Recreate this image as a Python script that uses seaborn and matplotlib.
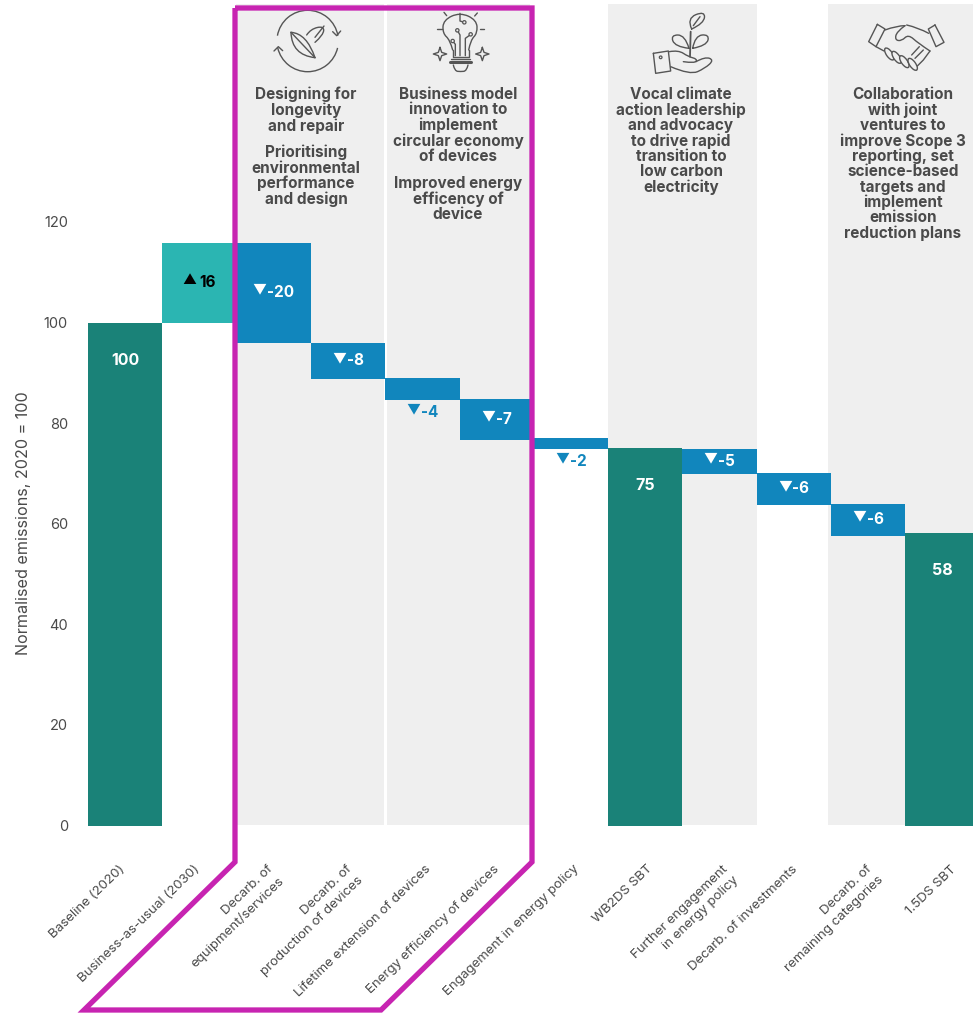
import matplotlib
matplotlib.use("Agg")
import matplotlib.pyplot as plt
import seaborn as sns
from matplotlib.path import Path
from matplotlib.patches import PathPatch, Rectangle, Ellipse, Arc
from matplotlib.transforms import Affine2D, ScaledTranslation

# ---- data ----
categories = ["Baseline (2020)", "Business-as-usual (2030)", "Decarb. of\nequipment/services",
              "Decarb. of\nproduction of devices", "Lifetime extension of devices",
              "Energy efficiency of devices", "Engagement in energy policy", "WB2DS SBT",
              "Further engagement\nin energy policy", "Decarb. of investments",
              "Decarb. of\nremaining categories", "1.5DS SBT"]
bar_top = [100, 115.9, 115.9, 95.9, 88.9, 84.8, 77, 75.1, 74.8, 70, 64, 58.1]
bar_bottom = [0, 100, 95.9, 88.8, 84.6, 76.7, 74.8, 0, 69.9, 63.8, 57.6, 0]
bar_kind = ["total", "rise", "cut", "cut", "cut", "cut", "cut", "total", "cut", "cut", "cut", "total"]
bar_label = ["100", "16", "-20", "-8", "-4", "-7", "-2", "75", "-5", "-6", "-6", "58"]
label_outside = [False, False, False, False, True, False, True, False, False, False, False, False]
yticks = [0, 20, 40, 60, 80, 100, 120]
ylabel = "Normalised emissions, 2020 = 100"
headers = [
    (306, 87, "Designing for\nlongevity\nand repair"),
    (306, 145, "Prioritising\nenvironmental\nperformance\nand design"),
    (458, 87, "Business model\ninnovation to\nimplement\ncircular economy\nof devices"),
    (458, 176, "Improved energy\nefficency of\ndevice"),
    (681, 87, "Vocal climate\naction leadership\nand advocacy\nto drive rapid\ntransition to\nlow carbon\nelectricity"),
    (903, 87, "Collaboration\nwith joint\nventures to\nimprove Scope 3\nreporting, set\nscience-based\ntargets and\nimplement\nemission\nreduction plans"),
]

# ---- style ----
kind_colour = {"total": "#1a8278", "rise": "#2bb5b2", "cut": "#1186bd"}
label_dx = [0, 0, -1, 4, 8, 3, 8, 7, 8, 4, 4, 14]
GREY = "#efefef"
MAGENTA = "#c724b1"
TEXT = "#4a4a4a"
ICON = "#555555"
FONT = ["Inter", "DejaVu Sans"]
W, H = 973, 1013
BAR_PX = 74.3

sns.set_theme(style="white")
plt.rcParams["font.family"] = FONT

fig = plt.figure(figsize=(W / 100, H / 100), dpi=100, facecolor="white")
ax = fig.add_axes([88 / W, (H - 825.5) / H, 885 / W, 825.5 / H])
ax.patch.set_visible(False)
px = Affine2D().scale(1 / W, -1 / H).translate(0, 1) + fig.transFigure

# grey theme panels
for x0, x1 in [(236, 383.5), (387, 530), (608, 757), (828, 973)]:
    ax.add_patch(Rectangle((x0, 4), x1 - x0, 821.5, transform=px, fc=GREY, ec="none",
                           zorder=0, clip_on=False))

# floating bars through seaborn, one call per step
for cat, top, bot, kind in zip(categories, bar_top, bar_bottom, bar_kind):
    sns.barplot(x=[cat], y=[top - bot], bottom=bot, order=categories, color=kind_colour[kind],
                saturation=1, width=1.0, ax=ax, zorder=2, edgecolor="none", linewidth=0)

ax.set_xlim(-0.5, -0.5 + 885 / BAR_PX)
ax.set_ylim(0, 825.5 / 5.03)
sns.despine(ax=ax, left=True, bottom=True, top=True, right=True)
ax.set_yticks(yticks)
ax.tick_params(axis="y", length=0, pad=14.5, labelsize=10.5, labelcolor=TEXT)
ax.set_ylabel(ylabel, fontsize=11.6, color=TEXT)
ax.yaxis.set_label_coords(31, 523, transform=px)
ax.set_xlabel("")
ax.tick_params(axis="x", length=0, pad=27, labelsize=9.6, labelcolor=TEXT)
for lab, dx in zip(ax.get_xticklabels(), label_dx):
    lab.set(rotation=44, ha="right", va="top", rotation_mode="anchor", ma="right", linespacing=1.4)
    lab.set_transform(lab.get_transform() + ScaledTranslation((dx - 6) / 100, 0, fig.dpi_scale_trans))

# value labels: digits plus a small raised triangle, centred as a group on the bar
renderer = fig.canvas.get_renderer()
PT = 0.72
for i, (top, bot, kind, txt, out) in enumerate(zip(bar_top, bar_bottom, bar_kind, bar_label, label_outside)):
    if kind == "total":
        ax.text(i, top - 7.5, txt, ha="center", va="center", color="white", fontsize=11.5,
                fontweight="bold", zorder=4)
        continue
    if kind == "rise":
        y, tri, col, gap = (top + bot) / 2, "▲", "black", 4
    elif out:
        y, tri, col, gap = bot - 2.5, "▼", kind_colour["cut"], 1
    else:
        y, tri, col, gap = (top + bot) / 2, "▼", "white", 1
    probe = ax.text(0, 0, txt, fontsize=11, fontweight="bold")
    w = probe.get_window_extent(renderer).width
    probe.remove()
    tri_w = 13
    left = -(tri_w + gap + w) / 2
    ax.annotate(tri, xy=(i, y), xytext=((left + tri_w / 2) * PT, 3 * PT), textcoords="offset points",
                ha="center", va="center", color=col, fontsize=10, zorder=4)
    ax.annotate(txt, xy=(i, y), xytext=((left + tri_w + gap) * PT, 0), textcoords="offset points",
                ha="left", va="center", color=col, fontsize=11, fontweight="bold", zorder=4)

# header texts
for x, y, s in headers:
    ax.text(x, y, s, transform=px, ha="center", va="top", ma="center", fontsize=11,
            fontweight="bold", color=TEXT, linespacing=1.015, zorder=4, clip_on=False)

# magenta outline
ax.add_patch(PathPatch(Path([(235, 8), (532, 8), (532, 862), (381, 1010), (84, 1010), (235, 862), (235, 8)],
                            closed=False), transform=px, fc="none", ec=MAGENTA, lw=3.8,
                       joinstyle="miter", zorder=5, clip_on=False))


# ---- line icons, drawn in zoom-crop coordinates ----
def curve(ox, oy, pts, lw=1.0, col=ICON):
    P = [(ox + a / 3, oy + b / 3) for a, b in pts]
    verts, codes = [P[0]], [Path.MOVETO]
    for k in range(1, len(P) - 1):
        end = P[k + 1] if k == len(P) - 2 else ((P[k][0] + P[k + 1][0]) / 2, (P[k][1] + P[k + 1][1]) / 2)
        verts += [P[k], end]
        codes += [Path.CURVE3, Path.CURVE3]
    ax.add_patch(PathPatch(Path(verts, codes), transform=px, fc="none", ec=col, lw=lw, zorder=4,
                           clip_on=False, capstyle="round", joinstyle="round"))


def poly(ox, oy, pts, lw=1.0, col=ICON):
    P = [(ox + a / 3, oy + b / 3) for a, b in pts]
    ax.plot(*zip(*P), transform=px, color=col, lw=lw, zorder=4, clip_on=False,
            solid_capstyle="round", solid_joinstyle="round")


def ring(ox, oy, cx, cy, r=5, lw=0.9):
    ax.add_patch(Ellipse((ox + cx / 3, oy + cy / 3), 2 * r / 3, 2 * r / 3, transform=px, fc=GREY,
                         ec=ICON, lw=lw, zorder=4, clip_on=False))


# leaf and cycle arrows
o = (260, 5)
for t1, t2 in [(190, 350), (13, 167)]:
    ax.add_patch(Arc((260 + 143 / 3, 5 + 108 / 3), 61.4, 61.4, theta1=t1, theta2=t2, transform=px, ec=ICON,
                     lw=1.0, zorder=4, clip_on=False))
poly(*o, [(218, 80), (230, 92), (242, 78)])
poly(*o, [(42, 138), (55, 125), (68, 137)])
curve(*o, [(93, 82), (140, 85), (165, 158)])
curve(*o, [(93, 82), (95, 150), (165, 158)])
poly(*o, [(93, 82), (165, 158)])
curve(*o, [(140, 90), (152, 72), (192, 63), (190, 90), (165, 112)])
poly(*o, [(165, 97), (192, 63)])

# light bulb
curve(*o, [(578, 135), (570, 105), (548, 85), (550, 45), (600, 22), (650, 45), (652, 85), (632, 105), (626, 135)])
poly(*o, [(578, 135), (578, 155), (626, 155), (626, 135)])
poly(*o, [(570, 172), (634, 172)], lw=2.2)
poly(*o, [(574, 162), (630, 162)])
curve(*o, [(580, 180), (584, 198), (602, 200), (620, 198), (624, 180)])
for seg in ([(600, 152), (600, 90), (592, 76)], [(586, 152), (586, 118), (578, 108)],
            [(616, 152), (616, 100), (630, 90)], [(600, 25), (600, 48), (612, 52)]):
    poly(*o, seg)
for c in [(592, 76), (578, 108), (632, 88), (613, 52)]:
    ring(*o, *c)
for seg in ([(532, 72), (545, 72)], [(660, 72), (673, 72)], [(552, 22), (560, 32)], [(652, 24), (644, 33)]):
    poly(*o, seg)
for sx, sy in [(540, 147), (667, 147)]:
    poly(*o, [(sx, sy - 20), (sx + 5, sy - 5), (sx + 20, sy), (sx + 5, sy + 5), (sx, sy + 20),
              (sx - 5, sy + 5), (sx - 20, sy), (sx - 5, sy - 5), (sx, sy - 20)])

# plant in a hand
o = (640, 5)
poly(*o, [(40, 145), (85, 138), (92, 198), (47, 205), (40, 145)])
ring(*o, 62, 157, r=4)
curve(*o, [(88, 140), (115, 135), (145, 155), (172, 162), (165, 175), (130, 170)])
curve(*o, [(92, 185), (150, 210), (195, 190), (222, 165), (195, 155), (168, 170)])
poly(*o, [(150, 155), (152, 80)], lw=1.3)
curve(*o, [(155, 72), (140, 40), (195, 18), (192, 55), (155, 72)])
poly(*o, [(160, 62), (180, 35)])
curve(*o, [(147, 130), (105, 125), (92, 90), (135, 90), (147, 130)])
curve(*o, [(158, 130), (200, 122), (208, 88), (165, 92), (158, 130)])

# handshake
poly(*o, [(712, 58), (735, 72), (708, 125), (686, 110), (712, 58)])
poly(*o, [(885, 60), (912, 112), (888, 125), (865, 72), (885, 60)])
curve(*o, [(735, 75), (770, 62), (795, 62)])
curve(*o, [(795, 62), (770, 80), (765, 105), (785, 108), (805, 88), (835, 115), (870, 138)])
curve(*o, [(800, 60), (835, 68), (866, 85)])
poly(*o, [(708, 125), (732, 138)])
poly(*o, [(870, 138), (850, 165), (830, 185)])
for cx, cy in [(748, 147), (770, 157), (793, 170), (818, 178)]:
    ax.add_patch(Ellipse((640 + cx / 3, 5 + cy / 3), 6, 14, angle=-35, transform=px, fc=GREY, ec=ICON,
                         lw=1.0, zorder=4, clip_on=False))
for seg in ([(825, 160), (850, 135)], [(815, 150), (838, 125)]):
    poly(*o, seg)

fig.savefig("out.png", dpi=100)
